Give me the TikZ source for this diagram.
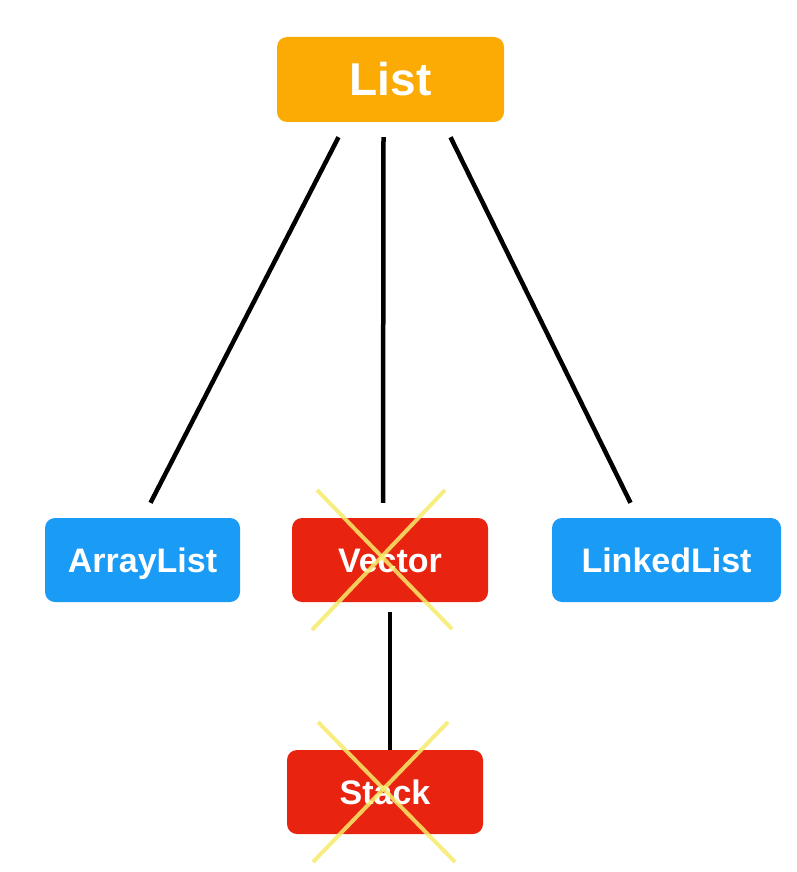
\documentclass[tikz,border=0pt]{standalone}
\usepackage{fontspec}
\setmainfont{Liberation Sans}
\definecolor{listorange}{HTML}{FBAB03}
\definecolor{implblue}{HTML}{1A9CF6}
\definecolor{deadred}{HTML}{E82410}
\definecolor{crossyellow}{HTML}{F6EA6A}
\begin{document}
\begin{tikzpicture}[x=1pt,y=-1pt,
  box/.style={rounded corners=10pt, inner sep=0pt, minimum height=84pt, text=white,
    text height=24.5pt, text depth=0pt,
    font=\bfseries\fontsize{34}{40}\selectfont},
  link/.style={draw=black, line width=4.5pt},
  cross/.style={draw=crossyellow, line width=4pt, opacity=0.85}]
\useasboundingbox (0,0) rectangle (797,872);
\node[box, fill=listorange, minimum width=227pt, minimum height=85pt, text height=33pt,
  font=\bfseries\fontsize{46}{52}\selectfont] (list) at (390.5,79.5) {List};
\node[box, fill=implblue, minimum width=195pt] (arr) at (142.5,560) {ArrayList};
\node[box, fill=deadred, minimum width=196pt] (vec) at (390,560) {Vector};
\node[box, fill=implblue, minimum width=229pt] (lnk) at (666.5,560) {LinkedList};
\node[box, fill=deadred, minimum width=196pt] (stk) at (385,792) {Stack};
\draw[link] ([xshift=-52pt,yshift=-15pt]list.south) -- ([xshift=8pt,yshift=15pt]arr.north);
\draw[link] ([xshift=-7pt,yshift=-15pt]list.south) -- ([xshift=-7pt,yshift=15pt]vec.north);
\draw[link] ([xshift=60pt,yshift=-15pt]list.south) -- ([xshift=-36pt,yshift=15pt]lnk.north);
\draw[link] ([yshift=-10pt]vec.south) -- ([xshift=5pt]stk.north);
\draw[cross] (317,490) -- (452,629);
\draw[cross] (445,490) -- (312,630);
\draw[cross] (318,722) -- (455,862);
\draw[cross] (448,722) -- (313,862);
\end{tikzpicture}
\end{document}
